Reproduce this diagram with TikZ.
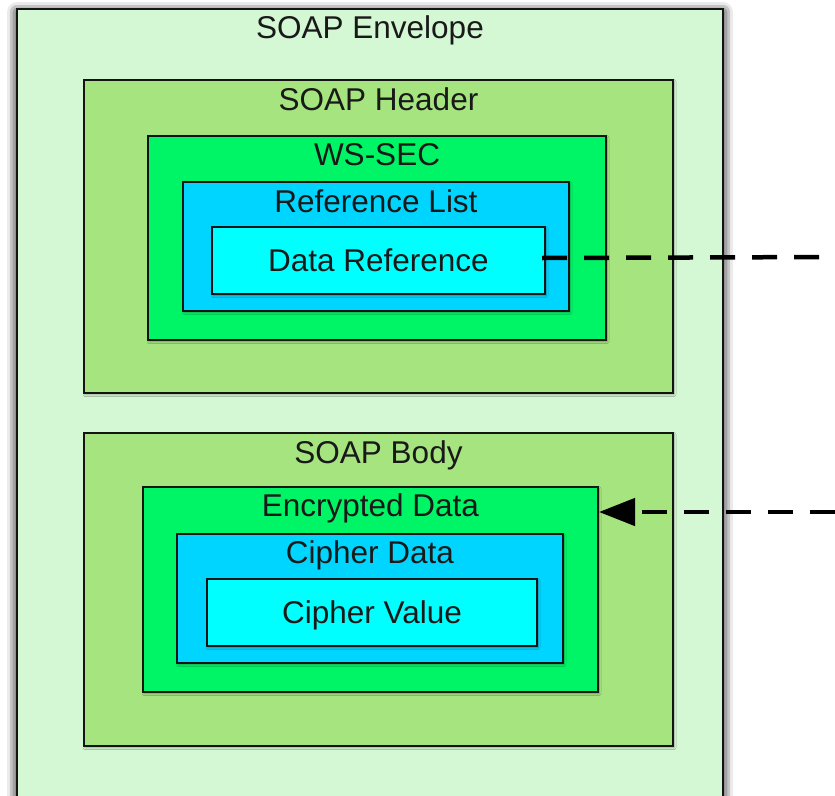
\documentclass[tikz,border=0pt]{standalone}
\usepackage{fontspec}
\setmainfont{Liberation Sans}
\usetikzlibrary{arrows.meta,shadows.blur}

\definecolor{envfill}{RGB}{212,247,212}
\definecolor{partfill}{RGB}{165,228,127}
\definecolor{secfill}{RGB}{0,245,102}
\definecolor{listfill}{RGB}{0,213,255}
\definecolor{itemfill}{RGB}{0,255,255}
\definecolor{boxline}{RGB}{20,20,20}

\begin{document}
\begin{tikzpicture}[x=1pt,y=-1pt,
  box/.style={draw=boxline, line width=2pt, inner sep=0pt, anchor=north west,
    blur shadow={shadow xshift=1pt, shadow yshift=-1.5pt, shadow blur radius=2pt, shadow opacity=35}},
  txt/.style={font=\fontsize{31.5}{36}\selectfont, text=black!90},
  title/.style={txt, inner sep=0pt, anchor=base},
  link/.style={draw=black, line width=4.5pt, dash pattern=on 25pt off 17pt},
]
\useasboundingbox (0,0) rectangle (835,795);

% envelope
\node[box, fill=envfill, minimum width=706pt, minimum height=830pt,
  blur shadow={shadow xshift=0pt, shadow yshift=-3pt, shadow blur radius=10pt, shadow opacity=65}]
  (env) at (16,8) {};
\node[title] (envT) at ([yshift=-30pt]env.north) {SOAP Envelope};

% header
\node[box, fill=partfill, minimum width=589pt, minimum height=313pt] (hdr) at (83,79) {};
\node[title] (hdrT) at ([yshift=-31pt]hdr.north) {SOAP Header};
\node[box, fill=secfill, minimum width=458pt, minimum height=204pt] (sec) at (147,135) {};
\node[title] (secT) at ([yshift=-30pt]sec.north) {WS-SEC};
\node[box, fill=listfill, minimum width=386pt, minimum height=129pt] (rlist) at (182,181) {};
\node[title] (rlistT) at ([yshift=-31pt]rlist.north) {Reference List};
\node[box, fill=itemfill, minimum width=333pt, minimum height=67pt, txt, text depth=0pt] (dref) at (211,226) {Data Reference};

% body
\node[box, fill=partfill, minimum width=589pt, minimum height=313pt] (bdy) at (83,432) {};
\node[title] (bdyT) at ([yshift=-31pt]bdy.north) {SOAP Body};
\node[box, fill=secfill, minimum width=455pt, minimum height=205pt] (enc) at (142,486) {};
\node[title] (encT) at ([yshift=-30pt]enc.north) {Encrypted Data};
\node[box, fill=listfill, minimum width=386pt, minimum height=129pt] (cdata) at (176,533) {};
\node[title] (cdataT) at ([yshift=-30pt]cdata.north) {Cipher Data};
\node[box, fill=itemfill, minimum width=330pt, minimum height=67pt, txt, text depth=0pt] (cval) at (206,578) {Cipher Value};

% references leaving and entering
\coordinate (out1) at (835,257);
\coordinate (in2) at (835,512);
\draw[link] ([xshift=-4pt,yshift=2.5pt]dref.east) -- (out1);
\draw[link, -{Triangle[length=36pt,width=27pt]}] (in2) -- ([yshift=-26pt]enc.north east);
\end{tikzpicture}
\end{document}
